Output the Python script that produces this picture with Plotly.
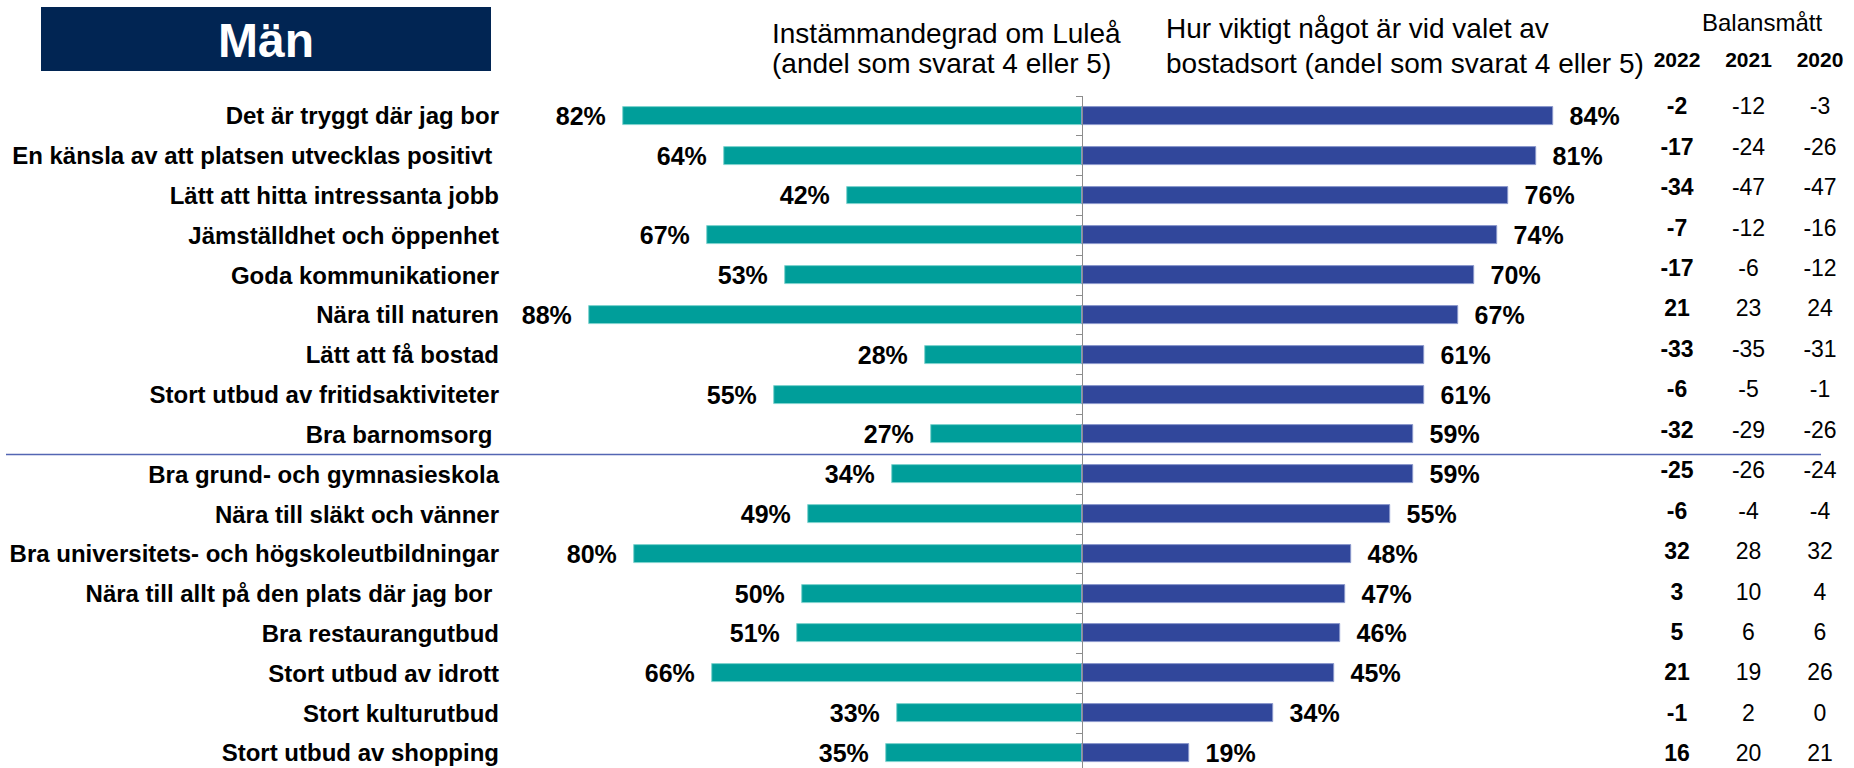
import plotly.graph_objects as go

categories = [
    "Det är tryggt där jag bor",
    "En känsla av att platsen utvecklas positivt\u00a0",
    "Lätt att hitta intressanta jobb",
    "Jämställdhet och öppenhet",
    "Goda kommunikationer",
    "Nära till naturen",
    "Lätt att få bostad",
    "Stort utbud av fritidsaktiviteter",
    "Bra barnomsorg\u00a0",
    "Bra grund- och gymnasieskola",
    "Nära till släkt och vänner",
    "Bra universitets- och högskoleutbildningar",
    "Nära till allt på den plats där jag bor\u00a0",
    "Bra restaurangutbud",
    "Stort utbud av idrott",
    "Stort kulturutbud",
    "Stort utbud av shopping",
]
agree_lulea = [82, 64, 42, 67, 53, 88, 28, 55, 27, 34, 49, 80, 50, 51, 66, 33, 35]
importance = [84, 81, 76, 74, 70, 67, 61, 61, 59, 59, 55, 48, 47, 46, 45, 34, 19]
years = ["2022", "2021", "2020"]
balance_2022 = [-2, -17, -34, -7, -17, 21, -33, -6, -32, -25, -6, 32, 3, 5, 21, -1, 16]
balance_2021 = [-12, -24, -47, -12, -6, 23, -35, -5, -29, -26, -4, 28, 10, 6, 19, 2, 20]
balance_2020 = [-3, -26, -47, -16, -12, 24, -31, -1, -26, -24, -4, 32, 4, 6, 26, 0, 21]

W, H = 1854, 768
FONT = "Liberation Sans, Arial, sans-serif"
TEAL = "#009e9a"
BLUE = "#31479b"
NAVY = "#012553"

def px_x(p):
    return p / W

def px_y(p):
    return 1 - p / H

fig = go.Figure()

fig.add_trace(go.Bar(
    y=categories, x=[-v for v in agree_lulea], orientation="h",
    marker=dict(color=TEAL, line=dict(color="#7fd3cf", width=1)),
    width=0.45, text=[f"{v}%" for v in agree_lulea],
    texttemplate="%{text}\u00a0\u00a0", textposition="outside",
    textfont=dict(family=FONT, size=25, color="black", weight="bold"),
    constraintext="none", cliponaxis=False, xaxis="x", yaxis="y",
    showlegend=False, hoverinfo="skip",
))
fig.add_trace(go.Bar(
    y=categories, x=importance, orientation="h",
    marker=dict(color=BLUE, line=dict(color="#8b98cc", width=1)),
    width=0.45, text=[f"{v}%" for v in importance],
    texttemplate="\u00a0\u00a0%{text}", textposition="outside",
    textfont=dict(family=FONT, size=25, color="black", weight="bold"),
    constraintext="none", cliponaxis=False, xaxis="x", yaxis="y2",
    showlegend=False, hoverinfo="skip",
))

for yr, vals, wt in zip(years, [balance_2022, balance_2021, balance_2020], ["bold", "normal", "normal"]):
    fig.add_trace(go.Scatter(
        x=[yr] * len(vals), y=categories, mode="text",
        text=[str(v) for v in vals], textposition="middle center",
        textfont=dict(family=FONT, size=23, color="black", weight=wt),
        xaxis="x2", yaxis="y3", showlegend=False, hoverinfo="skip",
        cliponaxis=False,
    ))

center_px = 1082.4
scale = 5.602
x_dom = [px_x(center_px - 100 * scale), px_x(center_px + 100 * scale)]

bar_row0, bar_step = 116.0, 39.81
bar_top = bar_row0 - 0.5 * bar_step
bar_bottom_r = (H - bar_row0) / bar_step
bar_dom = [0, px_y(bar_top)]

bal_row0, bal_step = 108.5, 40.44
bal_top = bal_row0 - 0.5 * bal_step
bal_bottom_r = (H - bal_row0) / bal_step
bal_dom = [0, px_y(bal_top)]

x2_c0, x2_step = 1677.0, 71.5
x2_dom = [px_x(x2_c0 - 0.5 * x2_step), px_x(x2_c0 + 2.45 * x2_step)]

fig.update_layout(
    width=W, height=H, margin=dict(l=0, r=0, t=0, b=0),
    paper_bgcolor="white", plot_bgcolor="rgba(0,0,0,0)",
    barmode="overlay", bargap=0,
    font=dict(family=FONT, color="black"),
    xaxis=dict(domain=x_dom, range=[-100, 100], showgrid=False, zeroline=False,
               showticklabels=False, ticks="", anchor="y"),
    yaxis=dict(domain=bar_dom, type="category", categoryorder="array", categoryarray=categories,
               range=[bar_bottom_r, -0.5], anchor="free", position=px_x(499), side="left",
               showgrid=False, zeroline=False, showline=False, ticks="",
               tickfont=dict(family=FONT, size=24, color="black", weight="bold")),
    yaxis2=dict(domain=bar_dom, type="category", categoryorder="array", categoryarray=categories,
                range=[bar_bottom_r, -0.5], overlaying="y", anchor="free", position=px_x(center_px),
                side="left", showgrid=False, zeroline=False, showline=True, linecolor="#8c8c8c",
                linewidth=1, ticks="outside", tickson="boundaries", ticklen=6, tickcolor="#8c8c8c",
                tickwidth=1, showticklabels=False),
    xaxis2=dict(domain=x2_dom, type="category", categoryorder="array", categoryarray=years,
                range=[-0.5, 2.45], anchor="y3", side="top", showgrid=False, zeroline=False,
                showline=False, ticks="outside", ticklen=12, tickcolor="rgba(0,0,0,0)",
                tickfont=dict(family=FONT, size=21, color="black", weight="bold")),
    yaxis3=dict(domain=bal_dom, type="category", categoryorder="array", categoryarray=categories,
                range=[bal_bottom_r, -0.5], anchor="x2", showgrid=False, zeroline=False,
                showline=False, ticks="", showticklabels=False),
)

fig.add_shape(type="rect", xref="paper", yref="paper",
              x0=px_x(41), x1=px_x(491), y0=px_y(71), y1=px_y(7),
              fillcolor=NAVY, line=dict(width=0), layer="below")
fig.add_shape(type="line", xref="paper", yref="y",
              x0=px_x(6), x1=px_x(1821), y0=8.5, y1=8.5,
              line=dict(color="#5366b3", width=1.5))

fig.add_annotation(text="Män", xref="paper", yref="paper", x=px_x(266), y=px_y(40),
                   showarrow=False, xanchor="center", yanchor="middle",
                   font=dict(family=FONT, size=48, color="white", weight="bold"))
head = dict(family=FONT, size=28, color="black")
fig.add_annotation(text="Instämmandegrad om Luleå", xref="paper", yref="paper",
                   x=px_x(770), y=px_y(33), showarrow=False, xanchor="left", yanchor="middle", font=head)
fig.add_annotation(text="(andel som svarat 4 eller 5)", xref="paper", yref="paper",
                   x=px_x(770), y=px_y(63), showarrow=False, xanchor="left", yanchor="middle", font=head)
fig.add_annotation(text="Hur viktigt något är vid valet av", xref="paper", yref="paper",
                   x=px_x(1164), y=px_y(29), showarrow=False, xanchor="left", yanchor="middle", font=head)
fig.add_annotation(text="bostadsort (andel som svarat 4 eller 5)", xref="paper", yref="paper",
                   x=px_x(1164), y=px_y(63), showarrow=False, xanchor="left", yanchor="middle", font=head)
fig.add_annotation(text="Balansmått", xref="paper", yref="paper",
                   x=px_x(1762), y=px_y(22), showarrow=False, xanchor="center", yanchor="middle",
                   font=dict(family=FONT, size=24, color="black"))

fig.write_html("out.html", config={"displayModeBar": False},
               post_script="document.body.style.margin='0';document.body.style.overflow='hidden';")
